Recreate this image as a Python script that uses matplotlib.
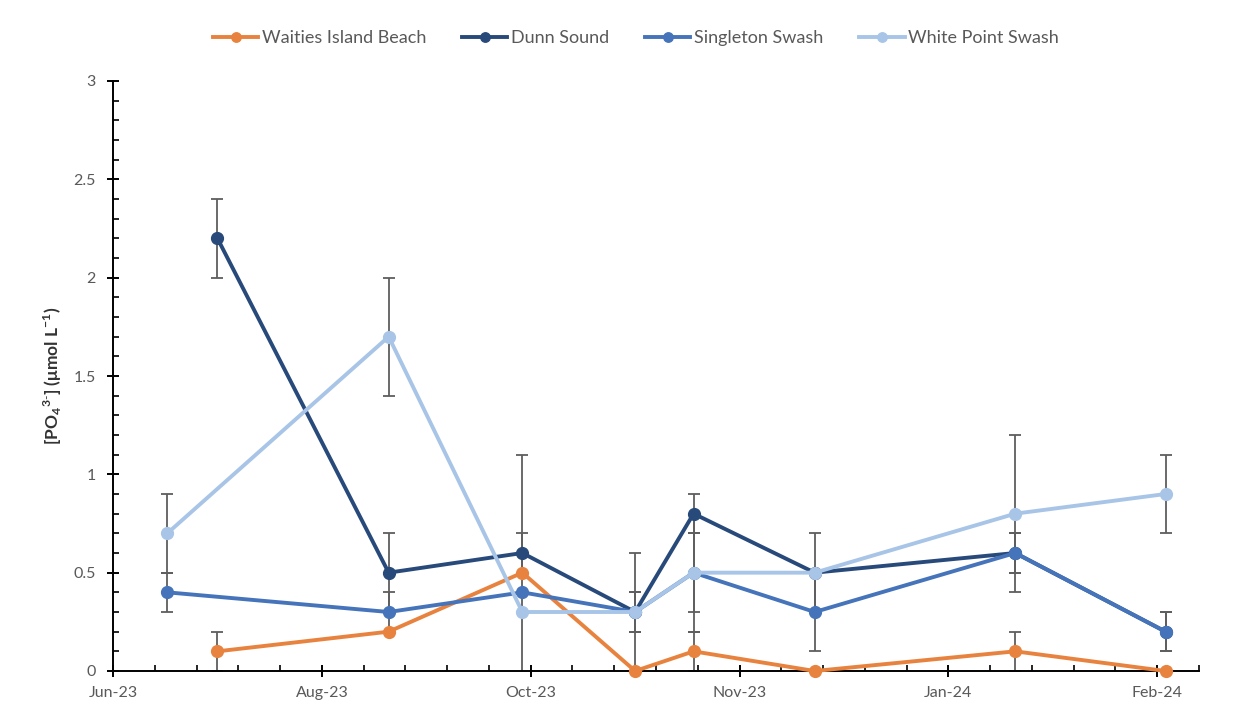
import numpy as np
import matplotlib
matplotlib.use("Agg")
import matplotlib.pyplot as plt
import matplotlib.dates as mdates
from matplotlib.ticker import FixedLocator, FuncFormatter

# Sampling dates, phosphate concentrations and standard deviations per site
waities_dates = ["2023-07-18", "2023-08-28", "2023-09-29", "2023-10-26",
                 "2023-11-09", "2023-12-08", "2024-01-25", "2024-03-01"]
waities = [0.1, 0.2, 0.5, 0.0, 0.1, 0.0, 0.1, 0.0]
waities_err = [0.1, 0.0, 0.6, 0.0, 0.1, 0.0, 0.1, 0.0]

dunn_dates = ["2023-07-18", "2023-08-28", "2023-09-29", "2023-10-26",
              "2023-11-09", "2023-12-08", "2024-01-25", "2024-03-01"]
dunn = [2.2, 0.5, 0.6, 0.3, 0.8, 0.5, 0.6, 0.2]
dunn_err = [0.2, 0.2, 0.1, 0.3, 0.1, 0.0, 0.1, 0.1]

singleton_dates = ["2023-07-06", "2023-08-28", "2023-09-29", "2023-10-26",
                   "2023-11-09", "2023-12-08", "2024-01-25", "2024-03-01"]
singleton = [0.4, 0.3, 0.4, 0.3, 0.5, 0.3, 0.6, 0.2]
singleton_err = [0.1, 0.1, 0.0, 0.1, 0.3, 0.2, 0.1, 0.1]

white_dates = ["2023-07-06", "2023-08-28", "2023-09-29", "2023-10-26",
               "2023-11-09", "2023-12-08", "2024-01-25", "2024-03-01"]
white = [0.7, 1.7, 0.3, 0.3, 0.5, 0.5, 0.8, 0.9]
white_err = [0.2, 0.3, 0.0, 0.1, 0.2, 0.2, 0.4, 0.2]

series_names = ["Waities Island Beach", "Dunn Sound", "Singleton Swash", "White Point Swash"]
colors = ["#E8833F", "#284A7A", "#4574BA", "#A8C5E7"]

# Date axis settings (days)
axis_start = "2023-06-23"
axis_span_days = 260
major_step_days = 50
minor_step_days = 10

plt.rcParams["font.family"] = ["Lato", "DejaVu Sans"]
plt.rcParams["mathtext.fontset"] = "custom"
plt.rcParams["mathtext.rm"] = "Lato"
plt.rcParams["mathtext.bf"] = "Lato:bold"

fig = plt.figure(figsize=(12.49, 7.19), dpi=100)
ax = fig.add_axes([113 / 1249, 1 - 671 / 719, (1199 - 113) / 1249, (671 - 81) / 719])

start = mdates.datestr2num(axis_start)
grey_err = "#5E5E5E"

data = [
    (waities_dates, waities, waities_err),
    (dunn_dates, dunn, dunn_err),
    (singleton_dates, singleton, singleton_err),
    (white_dates, white, white_err),
]

handles = []
for (dates, vals, errs), name, col in zip(data, series_names, colors):
    x = mdates.datestr2num(dates)
    ax.errorbar(x, vals, yerr=errs, fmt="none", ecolor=grey_err,
                elinewidth=1.3, capsize=4, capthick=1.3, zorder=2)
    h, = ax.plot(x, vals, color=col, lw=2.8, marker="o", ms=8.5,
                 label=name, zorder=3, clip_on=False)
    handles.append(h)

ax.set_xlim(start, start + axis_span_days)
ax.set_ylim(0, 3)

major_x = [start + d for d in range(0, axis_span_days + 1, major_step_days)]
minor_x = [start + d for d in range(0, axis_span_days + 1, minor_step_days)]
ax.xaxis.set_major_locator(FixedLocator(major_x))
ax.xaxis.set_minor_locator(FixedLocator(minor_x))
ax.xaxis.set_major_formatter(mdates.DateFormatter("%b-%y"))

ax.set_yticks(np.arange(0, 3.01, 0.5))
ax.set_yticks(np.arange(0, 3.01, 0.1), minor=True)
ax.yaxis.set_major_formatter(FuncFormatter(lambda v, p: f"{v:g}"))

for s in ["top", "right"]:
    ax.spines[s].set_visible(False)
for s in ["left", "bottom"]:
    ax.spines[s].set_linewidth(1.4)
    ax.spines[s].set_color("black")

ax.tick_params(axis="both", which="major", direction="inout", length=9, width=1.4,
               colors="black", labelcolor="#595959", labelsize=11.5)
ax.tick_params(axis="both", which="minor", direction="in", length=4, width=1.2,
               colors="black")
ax.tick_params(axis="x", which="major", pad=6)
ax.tick_params(axis="y", which="major", pad=8)

ax.set_ylabel(r"[PO$_\mathbf{4}$$^\mathbf{3\text{-}}$] ($\mathbf{\mu}$mol L$^\mathbf{-1}$)",
              fontsize=12.5, fontweight="bold", color="#333333", labelpad=7)

fig.legend(handles=handles, labels=series_names, loc="center", ncol=4,
           bbox_to_anchor=(636 / 1249, 1 - 38 / 719), frameon=False, fontsize=13,
           labelcolor="#595959", handlelength=2.5, handletextpad=0.2,
           columnspacing=2.0, markerscale=0.8)

fig.savefig("out.png", dpi=100, facecolor="white")
